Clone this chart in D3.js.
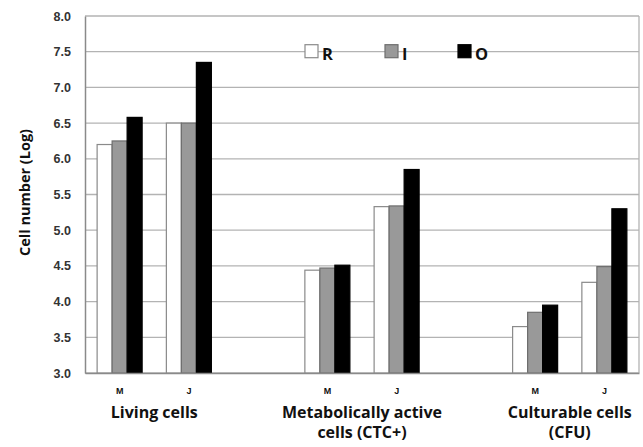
<!DOCTYPE html>
<html>
<head>
<meta charset="utf-8">
<script src="https://cdn.jsdelivr.net/npm/d3@7"></script>
<style>
  html, body { margin: 0; padding: 0; background: #fff; }
  svg { display: block; font-family: "Open Sans", "Liberation Sans", sans-serif; }
</style>
</head>
<body>
<svg id="chart" width="643" height="447"></svg>
<script>
// Sampling months per group; "" slots separate the three cell-count groups
const slots = ["M", "J", "_a", "M2", "J2", "_b", "M3", "J3"];
const slotLabels = ["M", "J", "", "M", "J", "", "M", "J"];
const seriesNames = ["R", "I", "O"];
const seriesFill = ["#ffffff", "#999999", "#000000"];
const seriesStroke = ["#8a8a8a", "#6e6e6e", "#000000"];

// log10 cell numbers for R, I, O at each slot (null = empty slot)
const valuesR = [6.20, 6.50, null, 4.44, 5.33, null, 3.65, 4.27];
const valuesI = [6.25, 6.50, null, 4.47, 5.34, null, 3.85, 4.49];
const valuesO = [6.58, 7.35, null, 4.51, 5.85, null, 3.95, 5.30];

const groupLabels = [
  { lines: ["Living cells"], from: "M", to: "J" },
  { lines: ["Metabolically active", "cells (CTC+)"], from: "M2", to: "J2" },
  { lines: ["Culturable cells", "(CFU)"], from: "M3", to: "J3" }
];
const yTicks = [3.0, 3.5, 4.0, 4.5, 5.0, 5.5, 6.0, 6.5, 7.0, 7.5, 8.0];

const svg = d3.select("#chart");
const margin = { left: 85, right: 4, top: 16, bottom: 74 };
const W = 643, H = 447;
const innerW = W - margin.left - margin.right;
const innerH = H - margin.top - margin.bottom;

const x = d3.scaleBand().domain(slots).range([0, innerW]).paddingInner(0).paddingOuter(0);
const sub = d3.scaleBand().domain(seriesNames).range([x.bandwidth() * 0.175, x.bandwidth() * 0.825]);
const y = d3.scaleLinear().domain([3, 8]).range([innerH, 0]);

const g = svg.append("g").attr("transform", `translate(${margin.left},${margin.top})`);

// horizontal gridlines
g.append("g").selectAll("line").data(yTicks).join("line")
  .attr("x1", 0).attr("x2", innerW)
  .attr("y1", d => y(d)).attr("y2", d => y(d))
  .attr("stroke", "#b3b3b3").attr("stroke-width", 1.3);

// right edge of plot area
g.append("line").attr("x1", innerW).attr("x2", innerW).attr("y1", 0).attr("y2", innerH)
  .attr("stroke", "#b3b3b3").attr("stroke-width", 1.3);

// bars
const series = [valuesR, valuesI, valuesO];
series.forEach((vals, si) => {
  const data = slots.map((s, i) => ({ slot: s, v: vals[i] })).filter(d => d.v !== null);
  g.append("g").selectAll("rect").data(data).join("rect")
    .attr("x", d => x(d.slot) + sub(seriesNames[si]))
    .attr("width", sub.bandwidth())
    .attr("y", d => y(d.v))
    .attr("height", d => innerH - y(d.v))
    .attr("fill", seriesFill[si])
    .attr("stroke", seriesStroke[si])
    .attr("stroke-width", 1.2);
});

// y axis
const yAxis = d3.axisLeft(y).tickValues(yTicks).tickFormat(d3.format(".1f")).tickSize(0).tickPadding(14);
const ya = g.append("g").call(yAxis);
ya.select(".domain").attr("stroke", "#8a8a8a").attr("stroke-width", 1.5);
ya.selectAll("text").attr("font-size", 12.5).attr("font-weight", 700).attr("fill", "#333");

// x axis
const xAxis = d3.axisBottom(x).tickFormat((d, i) => slotLabels[i]).tickSize(0).tickPadding(15);
const xa = g.append("g").attr("transform", `translate(0,${innerH})`).call(xAxis);
xa.select(".domain").attr("stroke", "#8a8a8a").attr("stroke-width", 1.5);
xa.selectAll("text").attr("font-size", 9).attr("font-weight", 700).attr("fill", "#111");

// group labels
groupLabels.forEach(gl => {
  const cx = (x(gl.from) + x(gl.to) + x.bandwidth()) / 2;
  gl.lines.forEach((t, li) => {
    g.append("text").attr("x", cx).attr("y", innerH + 45 + li * 20)
      .attr("text-anchor", "middle").attr("font-size", 16).attr("font-weight", 700)
      .attr("fill", "#111").text(t);
  });
});

// y axis title
svg.append("text")
  .attr("transform", `translate(30,${margin.top + innerH / 2 - 2}) rotate(-90)`)
  .attr("text-anchor", "middle").attr("font-size", 14.5).attr("font-weight", 700)
  .attr("fill", "#111").text("Cell number (Log)");

// legend
const legendX = [305, 385, 458];
const legend = svg.append("g").attr("transform", `translate(0,${margin.top + y(7.5)})`);
seriesNames.forEach((name, i) => {
  legend.append("rect").attr("x", legendX[i]).attr("y", -7).attr("width", 13).attr("height", 13)
    .attr("fill", seriesFill[i]).attr("stroke", seriesStroke[i]).attr("stroke-width", 1.2);
  legend.append("text").attr("x", legendX[i] + 17).attr("y", 8)
    .attr("font-size", 16.5).attr("font-weight", 700).attr("fill", "#111").text(name);
});
</script>
</body>
</html>
